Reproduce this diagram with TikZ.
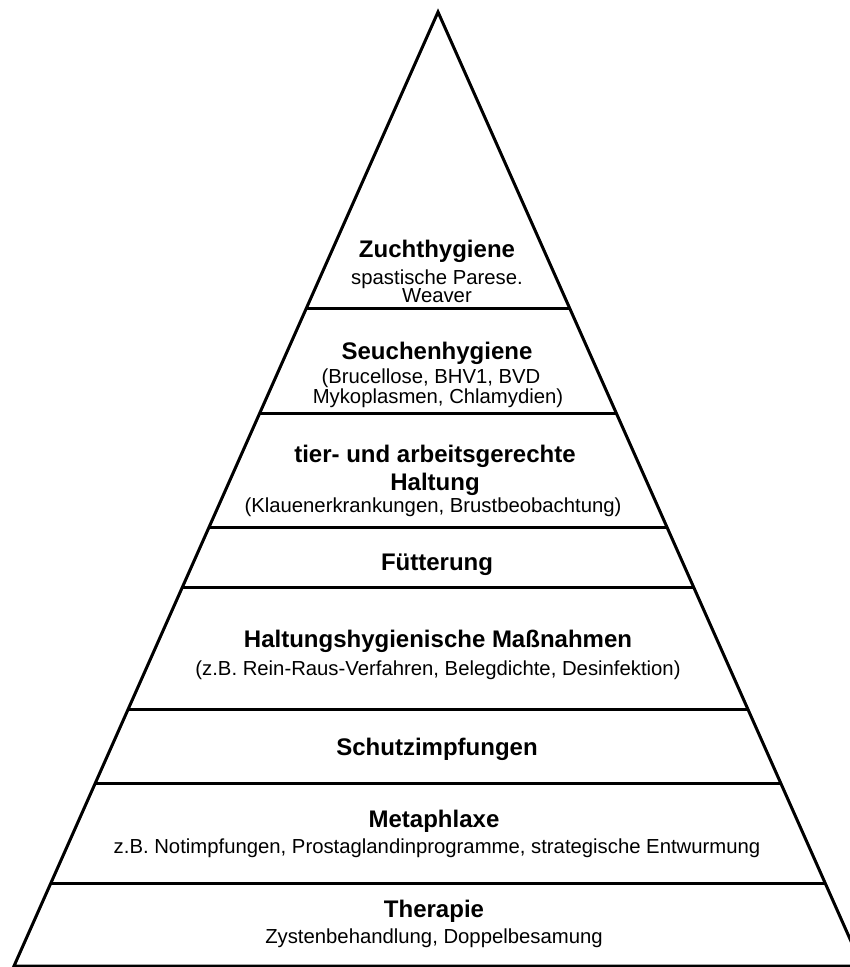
\documentclass[tikz,border=0pt]{standalone}
\usepackage{fontspec}
\setmainfont{Liberation Sans}
\usetikzlibrary{calc}

\tikzset{
  titel/.style={anchor=base,inner sep=0pt,font=\fontsize{24}{28}\selectfont\bfseries},
  notiz/.style={anchor=base,inner sep=0pt,font=\fontsize{20.3}{24}\selectfont},
  stufe/.style={line width=3pt},
}

\begin{document}
\begin{tikzpicture}[x=1pt,y=-1pt]
    \useasboundingbox (0,0) rectangle (850,967);
    \clip (0,0) rectangle (850,967);
    \coordinate (apex) at (438,12);
    \coordinate (lb) at (14,966);
    \coordinate (rb) at (862,966);
    \draw[stufe] (apex) -- (lb) -- (rb) -- cycle;
    \foreach \h in {309,413,527,588,710,783,884}
        \draw[stufe] ($(apex)!{(\h-12)/954}!(lb)$) -- ($(apex)!{(\h-12)/954}!(rb)$);

    \node[titel] (zucht)    at (437,257) {Zuchthygiene};
    \node[notiz] (zucht_a)  at (437,284) {spastische Parese.};
    \node[notiz] (zucht_b)  at (437,302.5) {Weaver};
    \node[titel] (seuche)   at (437,359) {Seuchenhygiene};
    \node[notiz] (seuche_a) at (431,383) {(Brucellose, BHV1, BVD};
    \node[notiz] (seuche_b) at (438,403) {Mykoplasmen, Chlamydien)};
    \node[titel] (halt)     at (435,462) {tier- und arbeitsgerechte};
    \node[titel] (halt_a)   at (435,490) {Haltung};
    \node[notiz] (halt_b)   at (433,512) {(Klauenerkrankungen, Brustbeobachtung)};
    \node[titel] (futter)   at (437,570) {Fütterung};
    \node[titel] (hygiene)  at (438,647) {Haltungshygienische Maßnahmen};
    \node[notiz] (hygiene_a) at (438,675) {(z.B. Rein-Raus-Verfahren, Belegdichte, Desinfektion)};
    \node[titel] (impf)     at (437,755) {Schutzimpfungen};
    \node[titel] (meta)     at (434,827) {Metaphlaxe};
    \node[notiz] (meta_a)   at (437,853) {z.B. Notimpfungen, Prostaglandinprogramme, strategische Entwurmung};
    \node[titel] (thera)    at (434,917) {Therapie};
    \node[notiz] (thera_a)  at (434,943) {Zystenbehandlung, Doppelbesamung};
\end{tikzpicture}
\end{document}
